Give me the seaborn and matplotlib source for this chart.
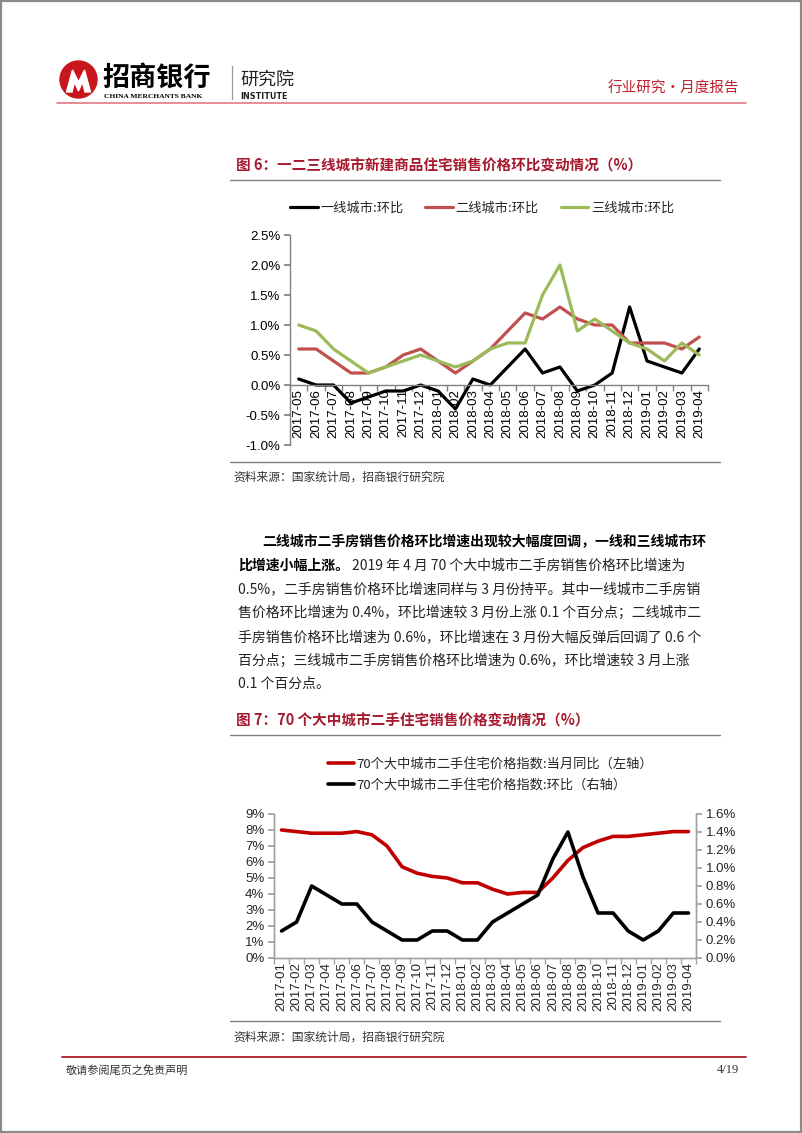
import numpy as np
import matplotlib
matplotlib.use('Agg')
import matplotlib.pyplot as plt
import seaborn as sns
from matplotlib.patches import Circle, Rectangle, Polygon

# ---------------- data ----------------
months1 = ['2017-05', '2017-06', '2017-07', '2017-08', '2017-09', '2017-10', '2017-11', '2017-12',
           '2018-01', '2018-02', '2018-03', '2018-04', '2018-05', '2018-06', '2018-07', '2018-08',
           '2018-09', '2018-10', '2018-11', '2018-12', '2019-01', '2019-02', '2019-03', '2019-04']
tier1 = [0.1, 0.0, 0.0, -0.3, -0.2, -0.1, -0.1, 0.0, -0.1, -0.4, 0.1, 0.0,
         0.3, 0.6, 0.2, 0.3, -0.1, 0.0, 0.2, 1.3, 0.4, 0.3, 0.2, 0.6]
tier2 = [0.6, 0.6, 0.4, 0.2, 0.2, 0.3, 0.5, 0.6, 0.4, 0.2, 0.4, 0.6,
         0.9, 1.2, 1.1, 1.3, 1.1, 1.0, 1.0, 0.7, 0.7, 0.7, 0.6, 0.8]
tier3 = [1.0, 0.9, 0.6, 0.4, 0.2, 0.3, 0.4, 0.5, 0.4, 0.3, 0.4, 0.6,
         0.7, 0.7, 1.5, 2.0, 0.9, 1.1, 0.9, 0.7, 0.6, 0.4, 0.7, 0.5]
names1 = ['一线城市:环比', '二线城市:环比', '三线城市:环比']
yticks1 = [-1.0, -0.5, 0.0, 0.5, 1.0, 1.5, 2.0, 2.5]

months2 = ['2017-01', '2017-02', '2017-03', '2017-04', '2017-05', '2017-06', '2017-07', '2017-08',
           '2017-09', '2017-10', '2017-11', '2017-12', '2018-01', '2018-02', '2018-03', '2018-04',
           '2018-05', '2018-06', '2018-07', '2018-08', '2018-09', '2018-10', '2018-11', '2018-12',
           '2019-01', '2019-02', '2019-03', '2019-04']
yoy = [8.0, 7.9, 7.8, 7.8, 7.8, 7.9, 7.7, 7.0, 5.7, 5.3, 5.1, 5.0, 4.7, 4.7,
       4.3, 4.0, 4.1, 4.1, 5.0, 6.1, 6.9, 7.3, 7.6, 7.6, 7.7, 7.8, 7.9, 7.9]
mom = [0.3, 0.4, 0.8, 0.7, 0.6, 0.6, 0.4, 0.3, 0.2, 0.2, 0.3, 0.3, 0.2, 0.2,
       0.4, 0.5, 0.6, 0.7, 1.1, 1.4, 0.9, 0.5, 0.5, 0.3, 0.2, 0.3, 0.5, 0.5]
names2 = ['70个大中城市二手住宅价格指数:当月同比（左轴）', '70个大中城市二手住宅价格指数:环比（右轴）']
yticks2l = [0, 1, 2, 3, 4, 5, 6, 7, 8, 9]
yticks2r = [0.0, 0.2, 0.4, 0.6, 0.8, 1.0, 1.2, 1.4, 1.6]

title1 = '图 6：一二三线城市新建商品住宅销售价格环比变动情况（%）'
title2 = '图 7：70 个大中城市二手住宅销售价格变动情况（%）'
source = '资料来源：国家统计局，招商银行研究院'
para_bold1 = '二线城市二手房销售价格环比增速出现较大幅度回调，一线和三线城市环'
para_bold2 = '比增速小幅上涨。'
para_rest2 = '2019 年 4 月 70 个大中城市二手房销售价格环比增速为'
para_lines = ['0.5%，二手房销售价格环比增速同样与 3 月份持平。其中一线城市二手房销',
              '售价格环比增速为 0.4%，环比增速较 3 月份上涨 0.1 个百分点；二线城市二',
              '手房销售价格环比增速为 0.6%，环比增速在 3 月份大幅反弹后回调了 0.6 个',
              '百分点；三线城市二手房销售价格环比增速为 0.6%，环比增速较 3 月上涨',
              '0.1 个百分点。']

# ---------------- setup ----------------
sns.set_theme(style='white')
plt.rcParams['font.family'] = ['Noto Sans CJK SC', 'DejaVu Sans']

W, H = 802, 1133
fig = plt.figure(figsize=(W / 100, H / 100), dpi=100)


def fx(x):
    return x / W


def fy(y):
    return 1 - y / H


bg = fig.add_axes([0, 0, 1, 1], zorder=0)
bg.set_xlim(0, W)
bg.set_ylim(H, 0)
bg.axis('off')

# page frame
bg.add_patch(Rectangle((0.8, 0.8), W - 1.8, H - 1.8, fill=False, ec='#8a8a8a', lw=1.6))

# ---------------- header ----------------
RED = '#C8161D'
bg.add_patch(Circle((78.5, 79.5), 18.5, color=RED))
mpts = np.array([(-12, 11), (-6, -11), (0, 1), (6, -11), (12, 11), (6.5, 11), (4, 1),
                 (0, 10), (-4, 1), (-6.5, 11)]) + np.array([78.5, 81])
bg.add_patch(Polygon(mpts, closed=True, color='white'))
bg.text(102, 78, '招商银行', fontsize=19.5, fontweight='bold', color='black', va='center', ha='left')
bg.text(104, 96.5, 'CHINA MERCHANTS BANK', fontsize=5.4, fontweight='bold', color='black',
        va='center', ha='left', family='Liberation Serif')
bg.plot([232, 232], [66, 99], color='#999999', lw=0.9)
bg.text(240, 80, '研究院', fontsize=13, color='#222222', va='center', ha='left')
bg.text(240, 96.5, 'INSTITUTE', fontsize=5.8, fontweight='bold', color='#222222',
        va='center', ha='left', family='DejaVu Sans')
bg.text(739, 89, '行业研究•月度报告', fontsize=10.5, color='#C0202F', va='center', ha='right')
bg.plot([57, 746], [102.5, 102.5], color='#E07A85', lw=1.2)

# ---------------- chart 1 ----------------
TITLE_C = '#A6192E'
GRAY = '#808080'
bg.text(236, 166, title1, fontsize=10.5, fontweight='bold', color=TITLE_C, va='center', ha='left')
bg.plot([230, 720], [179.5, 179.5], color=GRAY, lw=1.0)

ax1 = fig.add_axes([fx(290), fy(445), fx(708) - fx(290), (445 - 235) / H], zorder=2)
ax1.patch.set_alpha(0)
x1 = np.arange(len(months1))
sns.lineplot(x=x1, y=tier1, ax=ax1, color='black', linewidth=2.3, label=names1[0])
sns.lineplot(x=x1, y=tier2, ax=ax1, color='#C0504D', linewidth=2.3, label=names1[1])
sns.lineplot(x=x1, y=tier3, ax=ax1, color='#9BBB59', linewidth=2.3, label=names1[2])
h1, l1 = ax1.get_legend_handles_labels()
ax1.get_legend().remove()
ax1.spines['bottom'].set_position(('data', 0))
ax1.set_xlim(-0.5, len(months1) - 0.5)
ax1.set_ylim(-1.0, 2.5)
ax1.set_yticks(yticks1)
ax1.set_yticklabels([f'{v:.1f}%' for v in yticks1], family='Liberation Sans', fontsize=9.5)
ax1.set_xticks(x1)
ax1.set_xticklabels(months1, rotation=90, family='Liberation Sans', fontsize=9.5)
ax1.set_xticks(np.arange(-0.5, len(months1), 1), minor=True)
for s in ['top', 'right']:
    ax1.spines[s].set_visible(False)
for s in ['left', 'bottom']:
    ax1.spines[s].set_color(GRAY)
    ax1.spines[s].set_linewidth(1.0)
ax1.tick_params(axis='x', which='major', bottom=True, length=0, pad=3, colors='black',
                labelrotation=90)
ax1.tick_params(axis='x', which='minor', bottom=True, length=4, direction='out', color=GRAY)
ax1.tick_params(axis='y', left=True, length=4, direction='out', color=GRAY, pad=3, labelcolor='black')
ax1.set_xlabel('')
ax1.set_ylabel('')
ax1.grid(False)

fig.legend(h1, l1, loc='center left', bbox_to_anchor=(fx(290), fy(208)), ncol=3, frameon=False,
           fontsize=9.5, handlelength=2.1, handletextpad=0.2, columnspacing=1.65,
           borderpad=0, borderaxespad=0)

bg.plot([230, 720], [461.5, 461.5], color=GRAY, lw=1.0)
bg.text(233, 477, source, fontsize=8.5, color='#333333', va='center', ha='left')

# ---------------- paragraph ----------------
renderer = fig.canvas.get_renderer()
PFS = 10
LS = 23.7
y0 = 542
bg.text(262, y0, para_bold1, fontsize=PFS, fontweight='bold', color='black', va='center', ha='left')
tb = bg.text(238, y0 + LS, para_bold2, fontsize=PFS, fontweight='bold', color='black',
             va='center', ha='left')
bx = tb.get_window_extent(renderer).x1
bg.text(bx + 3, y0 + LS, para_rest2, fontsize=PFS, color='#222222', va='center', ha='left')
for i, line in enumerate(para_lines):
    bg.text(238, y0 + LS * (i + 2), line, fontsize=PFS, color='#222222', va='center', ha='left')

# ---------------- chart 2 ----------------
bg.text(236, 721, title2, fontsize=10.5, fontweight='bold', color=TITLE_C, va='center', ha='left')
bg.plot([230, 720], [734.5, 734.5], color=GRAY, lw=1.0)

ax2 = fig.add_axes([fx(274), fy(958), fx(696) - fx(274), (958 - 814) / H], zorder=2)
ax2.patch.set_alpha(0)
ax2r = ax2.twinx()
x2 = np.arange(len(months2))
sns.lineplot(x=x2, y=yoy, ax=ax2, color='#C00000', linewidth=2.6, label=names2[0])
sns.lineplot(x=x2, y=mom, ax=ax2r, color='black', linewidth=2.6, label=names2[1])
ha_, la_ = ax2.get_legend_handles_labels()
hb_, lb_ = ax2r.get_legend_handles_labels()
ax2.get_legend().remove()
ax2r.get_legend().remove()
ax2.set_xlim(-0.5, len(months2) - 0.5)
ax2.set_ylim(0, 9)
ax2r.set_ylim(0, 1.6)
ax2.set_yticks(yticks2l)
ax2.set_yticklabels([f'{v}%' for v in yticks2l], family='Liberation Sans', fontsize=9.5)
ax2r.set_yticks(yticks2r)
ax2r.set_yticklabels([f'{v:.1f}%' for v in yticks2r], family='Liberation Sans', fontsize=9.5)
ax2.set_xticks(x2)
ax2.set_xticklabels(months2, rotation=90, family='Liberation Sans', fontsize=9.5)
ax2.set_xticks(np.arange(-0.5, len(months2), 1), minor=True)
for a in (ax2, ax2r):
    a.spines['top'].set_visible(False)
    for s in ['left', 'right', 'bottom']:
        a.spines[s].set_color('#A0A0A0')
        a.spines[s].set_linewidth(1.0)
    a.set_xlabel('')
    a.set_ylabel('')
    a.grid(False)
ax2.tick_params(axis='x', which='major', bottom=True, length=0, pad=3)
ax2.tick_params(axis='x', which='minor', bottom=True, length=4, direction='out', color='#A0A0A0')
ax2.tick_params(axis='y', left=True, length=4, direction='out', color='#A0A0A0', pad=3)
ax2r.tick_params(axis='y', right=True, length=4, direction='out', color='#A0A0A0', pad=3)

fig.legend(ha_ + hb_, la_ + lb_, loc='center left', bbox_to_anchor=(fx(328), fy(774.5)), ncol=1,
           frameon=False, fontsize=9.5, handlelength=2.0, handletextpad=0.15, labelspacing=0.6,
           borderpad=0, borderaxespad=0)

bg.plot([230, 720], [1020.5, 1020.5], color=GRAY, lw=1.0)
bg.text(233, 1037, source, fontsize=8.5, color='#333333', va='center', ha='left')

# ---------------- footer ----------------
bg.plot([62, 746], [1056.5, 1056.5], color='#B01E2A', lw=1.3)
bg.text(66, 1070, '敬请参阅尾页之免责声明', fontsize=8, color='#333333', va='center', ha='left')
bg.text(739, 1070, '4/19', fontsize=9, color='#333333', va='center', ha='right', family='Liberation Serif')

fig.savefig('out.png', dpi=100)
